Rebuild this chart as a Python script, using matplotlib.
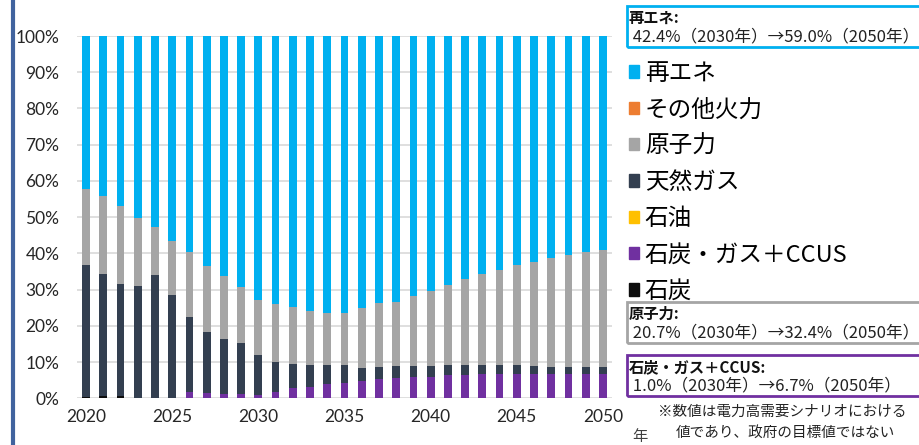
import matplotlib.pyplot as plt
from matplotlib.patches import Rectangle
from matplotlib.lines import Line2D

years = list(range(2020, 2051))

# generation mix shares (%), stacked from the bottom up
coal = [0.4, 0.5, 0.5, 0.2, 0.2, 0, 0, 0, 0, 0,
        0, 0, 0, 0, 0, 0, 0, 0, 0, 0,
        0, 0, 0, 0, 0, 0, 0, 0, 0, 0, 0]
ccus = [0, 0, 0, 0, 0, 0, 1.8, 1.6, 1.2, 1.1,
        1.0, 1.8, 2.8, 3.2, 3.9, 4.3, 4.8, 5.3, 5.7, 6.0,
        5.8, 6.3, 6.4, 6.6, 6.7, 6.8, 6.7, 6.7, 6.7, 6.7, 6.7]
oil = [0] * 31
gas = [36.5, 33.9, 31.1, 30.7, 33.9, 28.6, 20.6, 16.7, 15.2, 14.3,
       11.0, 8.3, 6.8, 5.9, 5.2, 4.8, 3.5, 3.4, 3.3, 3.0,
       3.0, 2.8, 2.7, 2.5, 2.4, 2.4, 2.3, 2.0, 2.0, 2.0, 1.9]
nuclear = [20.8, 21.4, 21.5, 18.8, 13.2, 14.7, 17.9, 18.3, 17.3, 15.3,
           15.2, 15.9, 15.5, 14.9, 14.4, 14.4, 16.5, 17.6, 17.6, 19.1,
           20.7, 22.2, 23.9, 25.1, 26.4, 27.5, 28.6, 29.9, 30.9, 31.8, 32.4]
other_thermal = [0] * 31
renewables = [42.3, 44.2, 46.9, 50.3, 52.7, 56.7, 59.7, 63.4, 66.3, 69.3,
              72.8, 74.0, 74.9, 76.0, 76.5, 76.5, 75.2, 73.7, 73.4, 71.9,
              70.5, 68.7, 67.0, 65.8, 64.5, 63.3, 62.4, 61.4, 60.4, 59.5, 59.0]

series = [
    ("石炭", coal, "#0d0d0d"),
    ("石炭・ガス＋CCUS", ccus, "#7030a0"),
    ("石油", oil, "#ffc000"),
    ("天然ガス", gas, "#333f50"),
    ("原子力", nuclear, "#a5a5a5"),
    ("その他火力", other_thermal, "#ed7d31"),
    ("再エネ", renewables, "#00b0f0"),
]

notes = [
    ("再エネ", " 42.4%（2030年）→59.0%（2050年）", "#00b0f0", 6),
    ("原子力", " 20.7%（2030年）→32.4%（2050年）", "#a5a5a5", 302),
    ("石炭・ガス＋CCUS", " 1.0%（2030年）→6.7%（2050年）", "#7030a0", 355),
]

jp = ["Noto Sans CJK JP", "DejaVu Sans"]
W, H = 920, 445

fig = plt.figure(figsize=(9.2, 4.45), dpi=100)
ax = fig.add_axes([77.4 / W, 1 - 398.3 / H, 534.2 / W, 362.3 / H])

bottom = [0.0] * 31
handles = []
for name, vals, color in series:
    ax.bar(years, vals, width=0.45, bottom=bottom, color=color, zorder=2)
    bottom = [b + v for b, v in zip(bottom, vals)]
    handles.append(Rectangle((0, 0), 1, 1, color=color, label=name))

ax.set_xlim(2019.5, 2050.5)
ax.set_ylim(0, 100)
ax.set_yticks(range(0, 101, 10))
ax.set_yticklabels([f"{v}%" for v in range(0, 101, 10)])
ax.set_xticks(range(2020, 2051, 5))
ax.yaxis.grid(True, color="#d9d9d9", linewidth=1.2, zorder=0)
for s in ax.spines.values():
    s.set_visible(False)
ax.tick_params(length=0, labelsize=12.5, labelcolor="#262626")
ax.tick_params(axis="y", pad=13)
ax.tick_params(axis="x", pad=8)
for lbl in ax.get_xticklabels() + ax.get_yticklabels():
    lbl.set_family("Lato")

# legend, top entry first
leg = fig.legend(handles=handles[::-1], loc="upper left",
                 bbox_to_anchor=(629 / W, 1 - 62 / H),
                 frameon=False, prop={"family": jp, "size": 17},
                 handlelength=0.42, handleheight=0.42, handletextpad=0.25,
                 labelspacing=0.565, borderpad=0, borderaxespad=0)

# summary boxes on the right
for title, line, color, top in notes:
    fig.patches.append(Rectangle((627 / W, 1 - (top + 41) / H), 300 / W, 41 / H,
                                 transform=fig.transFigure, fill=False,
                                 edgecolor=color, linewidth=2))
    fig.text(629 / W, 1 - (top + 12) / H, title + ":", family=jp, size=11,
             weight="bold", va="center", color="#111111")
    fig.text(629 / W, 1 - (top + 31) / H, line, family=jp, size=12,
             va="center", color="#222222")

fig.text(782 / W, 1 - 412 / H, "※数値は電力高需要シナリオにおける", family=jp,
         size=10.5, ha="center", va="center", color="#222222")
fig.text(785 / W, 1 - 433 / H, "値であり、政府の目標値ではない", family=jp,
         size=10.5, ha="center", va="center", color="#222222")
fig.text(640 / W, 1 - 437 / H, "年", family=jp, size=11, ha="center",
         va="center", color="#404040")

# blue rule down the left edge
fig.lines.append(Line2D([13 / W, 13 / W], [0, 1], transform=fig.transFigure,
                        color="#41639e", linewidth=3))

fig.savefig("out.png", dpi=100)
